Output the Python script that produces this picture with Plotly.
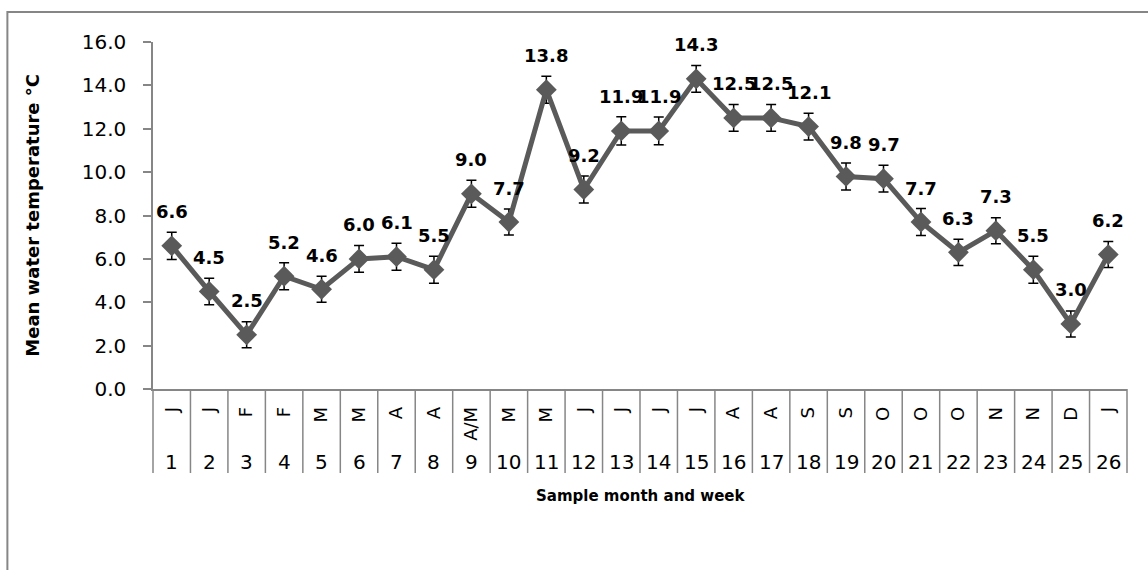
import plotly.graph_objects as go

weeks = [str(i) for i in range(1, 27)]
months = ["J", "J", "F", "F", "M", "M", "A", "A", "A/M", "M", "M", "J", "J",
          "J", "J", "A", "A", "S", "S", "O", "O", "O", "N", "N", "D", "J"]
temps = [6.6, 4.5, 2.5, 5.2, 4.6, 6.0, 6.1, 5.5, 9.0, 7.7, 13.8, 9.2, 11.9,
         11.9, 14.3, 12.5, 12.5, 12.1, 9.8, 9.7, 7.7, 6.3, 7.3, 5.5, 3.0, 6.2]
errs = [0.63, 0.61, 0.60, 0.62, 0.60, 0.62, 0.62, 0.62, 0.62, 0.60, 0.62, 0.62, 0.65,
        0.64, 0.62, 0.62, 0.62, 0.62, 0.62, 0.62, 0.62, 0.60, 0.60, 0.62, 0.60, 0.60]
y_ticks = [0, 2, 4, 6, 8, 10, 12, 14, 16]

FONT = "DejaVu Sans"
AXC = "#868686"
LINEC = "#5a5a5a"

xpos = list(range(1, len(weeks) + 1))

fig = go.Figure()
fig.add_trace(go.Scatter(
    x=xpos, y=temps, mode="lines+markers",
    line=dict(color=LINEC, width=5),
    marker=dict(symbol="diamond", size=16, color=LINEC),
    error_y=dict(type="data", array=errs, visible=True, color="black",
                 thickness=1.5, width=5),
    hoverinfo="skip", showlegend=False,
))

annotations = []
for xv, v in zip(xpos, temps):
    annotations.append(dict(x=xv, y=v, xref="x", yref="y", text=f"{v:.1f}",
                            showarrow=False, yshift=34,
                            font=dict(family=FONT, size=18, color="black", weight="bold")))
for xv, w in zip(xpos, weeks):
    annotations.append(dict(x=xv, y=-0.210, xref="x", yref="paper", text=w,
                            showarrow=False, yanchor="middle",
                            font=dict(family=FONT, size=20, color="black")))
annotations.append(dict(x=0.5, y=-0.308, xref="paper", yref="paper",
                        text="Sample month and week", showarrow=False,
                        yanchor="middle",
                        font=dict(family=FONT, size=15, color="black", weight="bold")))
annotations.append(dict(x=-0.124, y=0.5, xref="paper", yref="paper",
                        text="Mean water temperature °C", showarrow=False,
                        textangle=-90, xanchor="center", yanchor="middle",
                        font=dict(family=FONT, size=18, color="black", weight="bold")))

n = len(weeks)
shapes = []
for k in range(n + 1):
    shapes.append(dict(type="line", xref="x domain", yref="paper",
                       x0=k / n, x1=k / n, y0=0, y1=-0.242,
                       line=dict(color=AXC, width=1.5)))
shapes.append(dict(type="rect", xref="paper", yref="paper",
                   x0=-0.1495, x1=1.05, y0=1.0865, y1=-0.6,
                   line=dict(color=AXC, width=2), fillcolor="rgba(0,0,0,0)"))

fig.update_layout(
    width=1148, height=570,
    margin=dict(l=153, r=21, t=42, b=181),
    paper_bgcolor="white", plot_bgcolor="white",
    font=dict(family=FONT, size=17, color="black"),
    xaxis=dict(range=[0.5, n + 0.5], tickvals=xpos, ticktext=months,
               tickangle=-90, ticks="", showgrid=False, zeroline=False,
               showline=True, linecolor=AXC, linewidth=1.5,
               ticklabelstandoff=9, tickfont=dict(family=FONT, size=18)),
    yaxis=dict(range=[0, 16], tickvals=y_ticks, tickformat=".1f",
               ticks="outside", ticklen=8, tickcolor=AXC, tickwidth=1.5,
               showgrid=False, zeroline=False, showline=True,
               linecolor=AXC, linewidth=1.5, ticklabelstandoff=13,
               tickfont=dict(family=FONT, size=20)),
    annotations=annotations, shapes=shapes,
)

fig.write_html("out.html", config={"displayModeBar": False},
               post_script="document.body.style.margin='0';")
